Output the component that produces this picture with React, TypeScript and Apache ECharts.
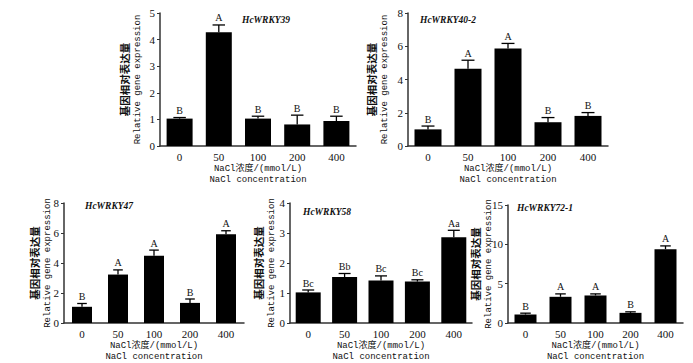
import React, { useEffect, useRef } from "react";
import * as echarts from "echarts";

const categories = ["0", "50", "100", "200", "400"];

const wrky39 = [1.03, 4.28, 1.03, 0.81, 0.94];
const wrky39Err = [0.04, 0.27, 0.09, 0.35, 0.18];
const wrky39Sig = ["B", "A", "B", "B", "B"];

const wrky402 = [1.0, 4.64, 5.87, 1.43, 1.81];
const wrky402Err = [0.2, 0.52, 0.3, 0.28, 0.2];
const wrky402Sig = ["B", "A", "A", "B", "B"];

const wrky47 = [1.08, 3.23, 4.48, 1.34, 5.91];
const wrky47Err = [0.22, 0.31, 0.38, 0.26, 0.24];
const wrky47Sig = ["B", "A", "A", "B", "A"];

const wrky58 = [1.02, 1.53, 1.42, 1.38, 2.86];
const wrky58Err = [0.08, 0.12, 0.15, 0.06, 0.23];
const wrky58Sig = ["Bc", "Bb", "Bc", "Bc", "Aa"];

const wrky721 = [1.08, 3.33, 3.5, 1.29, 9.38];
const wrky721Err = [0.17, 0.37, 0.2, 0.13, 0.42];
const wrky721Sig = ["B", "A", "A", "B", "A"];

const geneNames = ["HcWRKY39", "HcWRKY40-2", "HcWRKY47", "HcWRKY58", "HcWRKY72-1"];
const yMax = [5, 8, 8, 4, 15];
const yInterval = [1, 2, 2, 1, 5];

const yNameCn = "基因相对表达量";
const yNameEn = "Relative gene expression";
const xNameCn = "NaCl浓度/(mmol/L)";
const xNameEn = "NaCl concentration";

const values = [wrky39, wrky402, wrky47, wrky58, wrky721];
const errors = [wrky39Err, wrky402Err, wrky47Err, wrky58Err, wrky721Err];
const sigs = [wrky39Sig, wrky402Sig, wrky47Sig, wrky58Sig, wrky721Sig];

// layout (pixels)
const grids = [
  { left: 160, top: 13, width: 196, height: 133 },
  { left: 408, top: 13, width: 200, height: 133 },
  { left: 64, top: 203, width: 180, height: 121 },
  { left: 290, top: 203, width: 182, height: 121 },
  { left: 508, top: 205, width: 175, height: 120 },
];
const barWidths = [26, 27, 20, 25, 22];
const titlePos = [
  { left: 242, top: 15 },
  { left: 420, top: 15 },
  { left: 85, top: 201 },
  { left: 303, top: 207 },
  { left: 517, top: 203 },
];
const yNameGaps = [16, 17, 10, 12, 13];

const MONO = "Liberation Mono, Noto Sans CJK SC, monospace";
const SERIF = "Liberation Serif, DejaVu Serif, serif";
const AXIS_COLOR = "#333";

export default function App() {
  const ref = useRef<HTMLDivElement>(null);
  useEffect(() => {
    document.body.style.margin = "0";
    if (!ref.current) return;
    const chart = echarts.init(ref.current, null, { renderer: "svg" });

    const xAxis: any[] = [];
    const yAxis: any[] = [];
    const series: any[] = [];
    const title: any[] = [];

    grids.forEach((g, k) => {
      xAxis.push({
        type: "category",
        gridIndex: k,
        data: categories,
        axisLine: { lineStyle: { color: AXIS_COLOR, width: 1.5 } },
        axisTick: { show: false },
        axisLabel: { color: "#111", fontFamily: SERIF, fontSize: 11, margin: 5 },
        name: `{a|${xNameCn}}\n{b|${xNameEn}}`,
        nameLocation: "middle",
        nameGap: 17,
        nameMoveOverlap: false,
        nameTextStyle: {
          color: "#111",
          lineHeight: 11,
          rich: {
            a: { fontFamily: MONO, fontSize: 9, lineHeight: 11, color: "#111" },
            b: { fontFamily: MONO, fontSize: 9, lineHeight: 11, color: "#111" },
          },
        },
      });
      yAxis.push({
        type: "value",
        gridIndex: k,
        min: 0,
        max: yMax[k],
        interval: yInterval[k],
        splitLine: { show: false },
        axisLine: { show: true, lineStyle: { color: AXIS_COLOR, width: 1.5 } },
        axisTick: { show: true, length: 3, lineStyle: { color: AXIS_COLOR } },
        axisLabel: { color: "#111", fontFamily: SERIF, fontSize: 11, margin: 5 },
        name: `{a|${yNameCn}}\n{b|${yNameEn}}`,
        nameLocation: "middle",
        nameRotate: 90,
        nameGap: yNameGaps[k],
        nameMoveOverlap: false,
        nameTextStyle: {
          color: "#111",
          rich: {
            a: { fontFamily: "Noto Sans CJK SC", fontSize: 10.5, fontWeight: "bold", lineHeight: 13, color: "#111" },
            b: { fontFamily: MONO, fontSize: 9, lineHeight: 13, color: "#111" },
          },
        },
      });
      title.push({
        text: geneNames[k],
        left: titlePos[k].left,
        top: titlePos[k].top,
        padding: 0,
        textStyle: {
          fontFamily: SERIF,
          fontStyle: "italic",
          fontWeight: "bold",
          fontSize: 9.5,
          color: "#111",
        },
      });
      series.push({
        type: "bar",
        xAxisIndex: k,
        yAxisIndex: k,
        data: values[k],
        barWidth: barWidths[k],
        itemStyle: { color: "#000" },
        z: 2,
      });
      const sig = sigs[k];
      series.push({
        type: "custom",
        xAxisIndex: k,
        yAxisIndex: k,
        z: 3,
        clip: false,
        data: values[k].map((v, i) => [i, v, errors[k][i]]),
        renderItem: (params: any, api: any) => {
          const i = api.value(0);
          const v = api.value(1);
          const e = api.value(2);
          const base = api.coord([i, v]);
          const top = api.coord([i, v + e]);
          const hw = Math.max(4, barWidths[k] * 0.24);
          return {
            type: "group",
            children: [
              {
                type: "line",
                shape: { x1: base[0], y1: base[1], x2: top[0], y2: top[1] },
                style: { stroke: "#000", lineWidth: 1.3 },
              },
              {
                type: "line",
                shape: { x1: top[0] - hw, y1: top[1], x2: top[0] + hw, y2: top[1] },
                style: { stroke: "#000", lineWidth: 1.3 },
              },
              {
                type: "text",
                x: top[0],
                y: top[1] - 2,
                style: {
                  text: sig[params.dataIndex],
                  textAlign: "center",
                  textVerticalAlign: "bottom",
                  fontFamily: SERIF,
                  fontSize: 10,
                  fill: "#111",
                },
              },
            ],
          };
        },
      });
    });

    chart.setOption({
      animation: false,
      backgroundColor: "#fff",
      title,
      grid: grids.map((g) => ({ ...g, containLabel: false })),
      xAxis,
      yAxis,
      series,
    });
    return () => chart.dispose();
  }, []);
  return <div ref={ref} style={{ width: 693, height: 363 }} />;
}
